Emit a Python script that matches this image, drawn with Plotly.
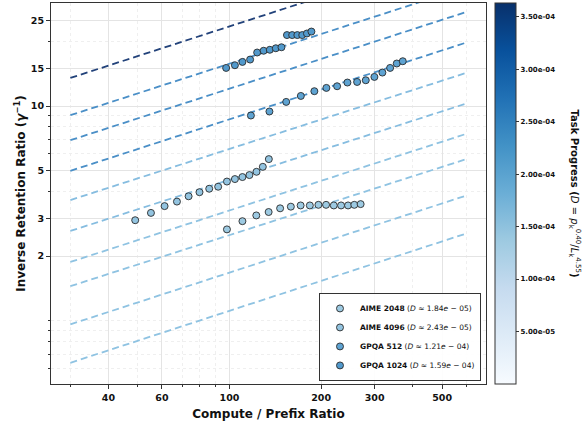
import plotly.graph_objects as go

# ---------------- data ----------------
aime2048_x = [98.1, 110.3, 122.5, 134.5, 146.7, 159.1, 171.3, 183.7, 196.0, 207.7, 220.2, 232.7, 245.3, 257.2, 269.8]
aime2048_y = [2.665, 2.91, 3.095, 3.21, 3.34, 3.40, 3.445, 3.445, 3.467, 3.467, 3.445, 3.445, 3.445, 3.467, 3.494]

aime4096_x = [49.0, 55.2, 61.2, 67.2, 73.4, 79.7, 85.8, 91.8, 98.1, 104.2, 110.3, 116.3, 122.7, 128.7, 134.7]
aime4096_y = [2.94, 3.18, 3.42, 3.59, 3.80, 3.97, 4.12, 4.21, 4.45, 4.57, 4.67, 4.77, 4.94, 5.21, 5.66]

gpqa512_x = [117.6, 135.3, 153.6, 171.6, 190.1, 208.2, 225.8, 244.1, 262.7, 280.5, 299.4, 318.1, 337.2, 354.6, 371.1]
gpqa512_y = [9.03, 9.43, 10.45, 11.14, 11.72, 12.14, 12.36, 12.86, 12.94, 13.18, 13.66, 14.31, 15.04, 15.77, 16.16]

gpqa1024_x = [97.5, 104.2, 110.3, 116.9, 123.3, 129.5, 135.7, 142.0, 148.2, 154.5, 160.7, 167.1, 173.4, 179.7, 185.9]
gpqa1024_y = [15.04, 15.48, 16.04, 16.45, 17.74, 18.08, 18.27, 18.57, 18.77, 21.39, 21.39, 21.39, 21.39, 21.76, 22.21]

series_names = ["AIME 2048", "AIME 4096", "GPQA 512", "GPQA 1024"]
series_D_text = ["1.84", "2.43", "1.21", "1.59"]
series_D_exp = ["05", "05", "04", "04"]
series_D = [1.84e-05, 2.43e-05, 1.21e-04, 1.59e-04]

# iso-progress reference lines (start at x=30, end at x=600)
ref_line_x = [30, 600]
ref_line_start = [13.51, 9.06, 6.93, 4.99, 3.65, 2.62, 1.88, 1.45, 0.963, 0.638]
ref_line_end = [53.4, 35.8, 27.4, 19.74, 14.26, 10.27, 7.42, 5.66, 3.83, 2.55]

x_tick_vals = [40, 60, 100, 200, 300, 500]
x_minor_vals = [30, 50, 70, 80, 90, 400, 600, 700]
y_tick_vals = [2, 3, 5, 10, 15, 25]
y_minor_vals = [0.6, 0.7, 0.8, 0.9, 1, 4, 6, 7, 8, 9, 20]
cbar_tick_vals = [5e-05, 1e-04, 1.5e-04, 2e-04, 2.5e-04, 3e-04, 3.5e-04]
cbar_tick_text = ["5.00e-05", "1.00e-04", "1.50e-04", "2.00e-04", "2.50e-04", "3.00e-04", "3.50e-04"]

# ---------------- styles ----------------
line_colors = ["#22427a", "#4a8fc7", "#4a8fc7", "#4a8fc7",
               "#86bde0", "#86bde0", "#8fc3e2", "#8fc3e2", "#8fc3e2", "#8fc3e2"]
marker_colors = ["#9dcae2", "#93c4e0", "#5ea3d2", "#5199cc"]
blues = [[0.0, "#f7fbff"], [0.125, "#deebf7"], [0.25, "#c6dbef"], [0.375, "#9ecae1"],
         [0.5, "#6baed6"], [0.625, "#4292c6"], [0.75, "#2171b5"], [0.875, "#08519c"],
         [1.0, "#08306b"]]
FONT = "DejaVu Sans"

fig = go.Figure()

for i in range(len(ref_line_start)):
    fig.add_trace(go.Scatter(
        x=ref_line_x, y=[ref_line_start[i], ref_line_end[i]], mode="lines",
        line=dict(color=line_colors[i], width=1.8, dash="7px,4px"),
        showlegend=False, hoverinfo="skip"))

all_x = [aime2048_x, aime4096_x, gpqa512_x, gpqa1024_x]
all_y = [aime2048_y, aime4096_y, gpqa512_y, gpqa1024_y]
for i, name in enumerate(series_names):
    label = (f"<b>{name}</b> (<i>D</i> ≈ {series_D_text[i]}<i>e</i> − {series_D_exp[i]})")
    fig.add_trace(go.Scatter(
        x=all_x[i], y=all_y[i], mode="markers", name=label,
        marker=dict(size=7, color=marker_colors[i], line=dict(color="#2a2a2a", width=0.9))))

# colorbar holder
fig.add_trace(go.Scatter(
    x=[gpqa1024_x[0]], y=[gpqa1024_y[0]], mode="markers", showlegend=False, hoverinfo="skip",
    marker=dict(size=1, opacity=0, color=[series_D[3]], colorscale=blues, cmin=0, cmax=3.63e-04,
                showscale=True,
                colorbar=dict(
                    x=1.0207, xanchor="left", y=0.5, yanchor="middle", len=1.0, lenmode="fraction",
                    thickness=21, ypad=0, xpad=0, outlinecolor="#333333", outlinewidth=1,
                    tickvals=cbar_tick_vals, ticktext=cbar_tick_text, ticks="outside", ticklen=3,
                    tickcolor="#333333",
                    tickfont=dict(family=FONT, size=7, color="#111111", weight="bold"),
                ))))

# colorbar title, reading top-to-bottom
fig.add_annotation(
    xref="paper", yref="paper", x=1.2046, y=0.50, xanchor="center", yanchor="middle",
    textangle=90, showarrow=False,
    text="<b>Task Progress (</b><i>D</i> = <i>p</i><sub>k</sub><sup>0.40</sup>/<i>L</i><sub>k</sub><sup>4.55</sup><b>)</b>",
    font=dict(family=FONT, size=10, color="#111111"))

axis_common = dict(
    type="log", showline=True, mirror=True, linecolor="#333333", linewidth=1.2,
    ticks="outside", ticklen=4, tickcolor="#333333", tickwidth=1,
    showgrid=True, gridcolor="#e4e4e4", gridwidth=1, zeroline=False,
    tickfont=dict(family=FONT, size=9.5, color="#111111", weight="bold"),
)

fig.update_xaxes(
    **axis_common, range=[1.4135, 2.843],
    tickmode="array", tickvals=x_tick_vals, ticktext=[str(v) for v in x_tick_vals],
    minor=dict(tickvals=x_minor_vals, ticks="outside", ticklen=2, tickcolor="#333333",
               showgrid=True, gridcolor="#efefef", griddash="dot"),
    title=dict(text="Compute / Prefix Ratio", font=dict(family=FONT, size=12, color="#111111", weight="bold"),
               standoff=8))
fig.update_yaxes(
    **axis_common, range=[-0.294, 1.4795],
    tickmode="array", tickvals=y_tick_vals, ticktext=[str(v) for v in y_tick_vals],
    minor=dict(tickvals=y_minor_vals, ticks="outside", ticklen=2, tickcolor="#333333",
               showgrid=True, gridcolor="#efefef", griddash="dot"),
    title=dict(text="Inverse Retention Ratio (<i>γ</i><sup>−1</sup>)",
               font=dict(family=FONT, size=12, color="#111111", weight="bold"), standoff=2))

fig.update_layout(
    width=584, height=426, autosize=False,
    margin=dict(l=51, r=98, t=3, b=42),
    paper_bgcolor="white", plot_bgcolor="white",
    font=dict(family=FONT, color="#111111"),
    legend=dict(x=0.9885, y=0.008, xanchor="right", yanchor="bottom",
                bgcolor="rgba(255,255,255,0.9)", bordercolor="#333333", borderwidth=1,
                font=dict(family=FONT, size=7.5, color="#111111")),
)

fig.write_html("out.html", config={"displayModeBar": False},
               post_script="document.body.style.margin='0px';document.body.style.overflow='hidden';")
